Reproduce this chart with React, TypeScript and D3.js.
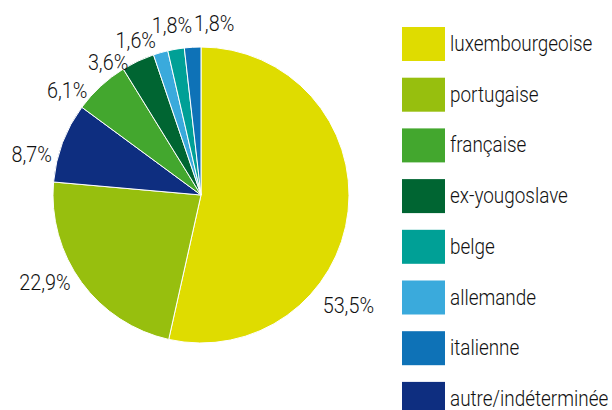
import React from "react";
import * as d3 from "d3";

const categories = [
  "luxembourgeoise",
  "portugaise",
  "autre/indéterminée",
  "française",
  "ex-yougoslave",
  "allemande",
  "belge",
  "italienne",
];
const values = [53.5, 22.9, 8.7, 6.1, 3.6, 1.6, 1.8, 1.8];
const colors = [
  "#dfdc00",
  "#97bf0e",
  "#0e2e80",
  "#43a72e",
  "#006532",
  "#3aaadc",
  "#00a096",
  "#0e72b7",
];
const legendOrder = [
  "luxembourgeoise",
  "portugaise",
  "française",
  "ex-yougoslave",
  "belge",
  "allemande",
  "italienne",
  "autre/indéterminée",
];
// label placement tweaks (degrees of angular shift, radius)
const labelShift = [30.5, 6.8, -7.4, -9.3, -9.8, -7, 0, 7.6];
const labelRadius = [184, 179, 174, 170, 162, 168, 172, 172];

const W = 612;
const H = 410;
const cx = 201;
const cy = 195;
const R = 148;

export default function App() {
  const data = categories.map((c, i) => ({ c, v: values[i], i }));
  const pie = d3.pie<any>().value((d) => d.v).sort(null);
  const arcs = pie(data);
  const arc = d3.arc<any>().innerRadius(0).outerRadius(R);
  const fmt = (v: number) => v.toFixed(1).replace(".", ",") + "%";
  const font = "Roboto, 'Open Sans', sans-serif";
  const legendY = d3
    .scalePoint<string>()
    .domain(legendOrder)
    .range([44, 44 + 50.7 * 7]);

  return (
    <svg
      width={W}
      height={H}
      style={{ position: "absolute", left: 0, top: 0, background: "#fff" }}
    >
      <g transform={`translate(${cx},${cy})`}>
        {arcs.map((a, k) => (
          <path
            key={k}
            d={arc(a) as string}
            fill={colors[a.data.i]}
            stroke="#fff"
            strokeWidth={1}
          />
        ))}
        {arcs.map((a, k) => {
          const mid = (a.startAngle + a.endAngle) / 2 + (labelShift[k] * Math.PI) / 180;
          const r = labelRadius[k];
          const x = r * Math.sin(mid);
          const y = -r * Math.cos(mid);
          return (
            <text
              key={"l" + k}
              transform={`translate(${x},${y}) scale(0.9,1)`}
              textAnchor="middle"
              dominantBaseline="central"
              fontFamily={font}
              fontWeight={300}
              fontSize={22}
              fill="#111"
            >
              {fmt(a.data.v)}
            </text>
          );
        })}
      </g>
      {legendOrder.map((name) => {
        const i = categories.indexOf(name);
        const y = legendY(name) as number;
        return (
          <g key={name}>
            <rect x={402} y={y - 17} width={43} height={34} fill={colors[i]} />
            <text
              transform={`translate(450,${y + 7}) scale(0.86,1)`}
              fontFamily={font}
              fontWeight={300}
              fontSize={22}
              fill="#111"
            >
              {name}
            </text>
          </g>
        );
      })}
    </svg>
  );
}
